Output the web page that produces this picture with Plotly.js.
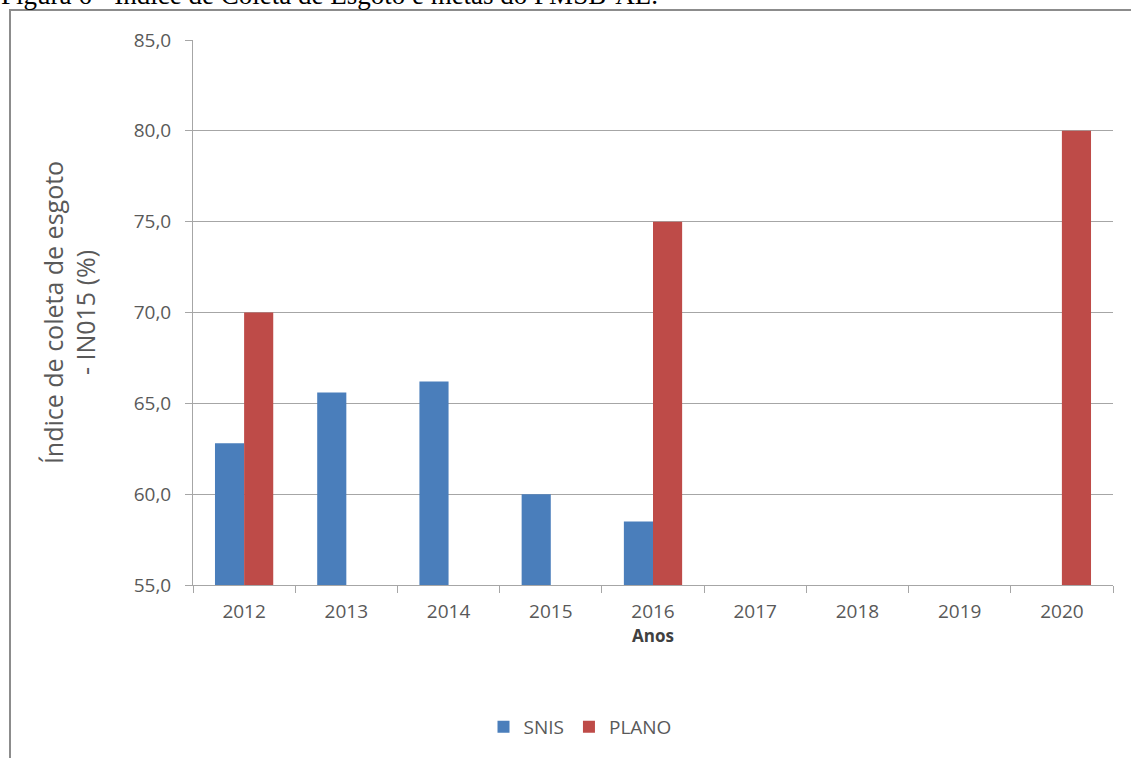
<!DOCTYPE html>
<html>
<head>
<meta charset="utf-8">
<script src="https://cdn.plot.ly/plotly-3.0.1.min.js"></script>
<style>html,body{margin:0;padding:0;background:#fff;}#chart{width:1131px;height:758px;}</style>
</head>
<body>
<div id="chart"></div>
<script>
const years = ["2012","2013","2014","2015","2016","2017","2018","2019","2020"];
const snis = [62.8, 65.6, 66.2, 60.0, 58.5, null, null, null, null];
const plano = [70.0, null, null, null, 75.0, null, null, null, 80.0];
const yTicks = [55, 60, 65, 70, 75, 80, 85];
const caption = "Figura 6 - Índice de Coleta de Esgoto e metas do PMSB-AL.";

const W = 1131, H = 758;
const mL = 193, mR = 18, mT = 40, mB = 173;
const pw = W - mL - mR, ph = H - mT - mB;
const px = x => (x - mL) / pw;
const py = y => (H - mB - y) / ph;

const font = "'Open Sans', 'Noto Sans', 'Liberation Sans', sans-serif";
const grey = "#595959";

const traces = [
  {type: "bar", name: "SNIS", x: years, y: snis, marker: {color: "#4a7ebb"}},
  {type: "bar", name: "PLANO", x: years, y: plano, marker: {color: "#be4b48"}}
];

const layout = {
  width: W, height: H,
  margin: {l: mL, r: mR, t: mT, b: mB},
  paper_bgcolor: "#ffffff", plot_bgcolor: "#ffffff",
  barmode: "group", bargap: 0.43, bargroupgap: 0,
  showlegend: true,
  legend: {orientation: "h", x: px(580), xanchor: "center", y: py(727), yanchor: "middle",
           font: {family: font, size: 19, color: grey}, itemwidth: 30, traceorder: "normal"},
  xaxis: {
    type: "category", tickson: "boundaries", ticks: "outside", ticklen: 7, tickcolor: "#a6a6a6",
    showline: true, linecolor: "#a6a6a6", linewidth: 1, showgrid: false,
    tickfont: {family: font, size: 19, color: grey}, ticklabelstandoff: 9,
    title: {text: "<b>Anos</b>", font: {family: font, size: 17, color: "#404040"}, standoff: 2},
    fixedrange: true
  },
  yaxis: {
    range: [55, 85], tickvals: yTicks, tickformat: ".1f",
    ticks: "outside", ticklen: 7, tickcolor: "#a6a6a6",
    showline: true, linecolor: "#a6a6a6", linewidth: 1,
    showgrid: true, gridcolor: "#a6a6a6", gridwidth: 1, zeroline: false,
    tickfont: {family: font, size: 19, color: grey}, ticklabelstandoff: 10,
    title: {text: "Índice de coleta de esgoto<br>- IN015 (%)", font: {family: font, size: 25, color: grey}, standoff: 30},
    fixedrange: true
  },
  separators: ",.",
  annotations: [
    {text: caption, xref: "paper", yref: "paper", x: px(-1), y: py(12), xanchor: "left", yanchor: "bottom",
     showarrow: false, font: {family: "'Liberation Serif', 'Times New Roman', serif", size: 27, color: "#000"}}
  ],
  shapes: [
    {type: "rect", xref: "paper", yref: "paper", x0: px(10), x1: px(1132), y0: py(10), y1: py(775),
     line: {color: "#8c8c8c", width: 2}, fillcolor: "rgba(0,0,0,0)", layer: "below"}
  ]
};

Plotly.newPlot("chart", traces, layout, {displayModeBar: false, staticPlot: true});
</script>
</body>
</html>
